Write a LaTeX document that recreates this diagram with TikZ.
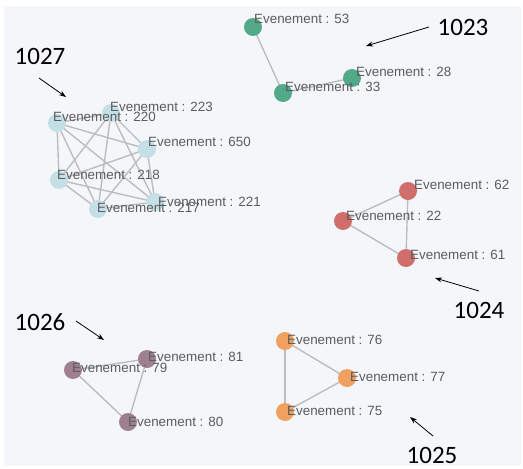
\documentclass[tikz,border=0pt]{standalone}
\usepackage{fontspec}
\setmainfont{Liberation Sans}
\newfontfamily\bigfont{Carlito}
\usetikzlibrary{arrows.meta}
\definecolor{panel}{HTML}{F4F6FA}
\definecolor{cgreen}{HTML}{52AA88}
\definecolor{cblue}{HTML}{C4E0E6}
\definecolor{cred}{HTML}{D06E6C}
\definecolor{corange}{HTML}{F0A061}
\definecolor{cpurple}{HTML}{9E8090}
\definecolor{labgray}{HTML}{5C5C5C}
\definecolor{edgegray}{HTML}{BDBDBD}
\tikzset{
  ev/.style={circle, minimum size=18pt, inner sep=0pt, draw=none},
  lab/.style={anchor=west, inner sep=0pt, text=labgray, font=\fontsize{13.4}{15}\selectfont},
  link/.style={draw=edgegray, line width=1.4pt},
  big/.style={inner sep=0pt, font=\bigfont\fontsize{25}{28}\selectfont, text=black},
  pointer/.style={draw=black, line width=0.8pt, -{Stealth[length=7pt,width=5pt]}}
}
\begin{document}
\begin{tikzpicture}[x=1pt,y=-1pt]
\useasboundingbox (0,0) rectangle (523,469);
\fill[white] (0,0) rectangle (523,469);
\fill[panel] (4,6) rectangle (521,466);

% ---- cluster 1027 ----
\coordinate (p220) at (57,123);
\coordinate (p223) at (111,113);
\coordinate (p650) at (147,149);
\coordinate (p218) at (59,180);
\coordinate (p217) at (98,209);
\coordinate (p221) at (155,202);
\foreach \a/\b in {220/223,220/650,220/218,220/217,220/221,223/650,223/218,223/217,223/221,650/218,650/217,650/221,218/217,218/221,217/221}
  \draw[link] (p\a) -- (p\b);
\foreach \n in {220,223,650,218,217,221}
  \node[ev, fill=cblue] (n\n) at (p\n) {};
\node[lab] (l220) at (53,117) {Evenement : 220};
\node[lab] (l223) at (110,107) {Evenement : 223};
\node[lab] (l650) at (148,142) {Evenement : 650};
\node[lab] (l218) at (57,175) {Evenement : 218};
\node[lab] (l221) at (158,202) {Evenement : 221};
\node[lab] (l217) at (97,208) {Evenement : 217};

% ---- cluster 1023 ----
\coordinate (p53) at (253,27);
\coordinate (p33) at (283,93);
\coordinate (p28) at (352,78);
\draw[link] (p53) -- (p33);
\draw[link] (p33) -- (p28);
\foreach \n in {53,33,28}
  \node[ev, fill=cgreen] (n\n) at (p\n) {};
\node[lab] (l53) at (254,19) {Evenement : 53};
\node[lab] (l33) at (285,87) {Evenement : 33};
\node[lab] (l28) at (356,72) {Evenement : 28};

% ---- cluster 1024 ----
\coordinate (p62) at (408,191);
\coordinate (p22) at (343,221);
\coordinate (p61) at (406,258);
\draw[link] (p62) -- (p22);
\draw[link] (p62) -- (p61);
\draw[link] (p22) -- (p61);
\foreach \n in {62,22,61}
  \node[ev, fill=cred] (n\n) at (p\n) {};
\node[lab] (l62) at (414,185) {Evenement : 62};
\node[lab] (l22) at (346,216) {Evenement : 22};
\node[lab] (l61) at (410,255) {Evenement : 61};

% ---- cluster 1026 ----
\coordinate (p79) at (73,370);
\coordinate (p81) at (147,359);
\coordinate (p80) at (128,422);
\draw[link] (p79) -- (p81);
\draw[link] (p81) -- (p80);
\draw[link] (p79) -- (p80);
\foreach \n in {79,81,80}
  \node[ev, fill=cpurple] (n\n) at (p\n) {};
\node[lab] (l81) at (148,357) {Evenement : 81};
\node[lab] (l79) at (72,368) {Evenement : 79};
\node[lab] (l80) at (128,422) {Evenement : 80};

% ---- cluster 1025 ----
\coordinate (p76) at (285,341);
\coordinate (p77) at (347,378);
\coordinate (p75) at (285,412);
\draw[link] (p76) -- (p77);
\draw[link] (p76) -- (p75);
\draw[link] (p77) -- (p75);
\foreach \n in {76,77,75}
  \node[ev, fill=corange] (n\n) at (p\n) {};
\node[lab] (l76) at (287,340) {Evenement : 76};
\node[lab] (l77) at (350,377) {Evenement : 77};
\node[lab] (l75) at (287,411) {Evenement : 75};

% ---- cluster labels and pointers ----
\node[big] (t1027) at (40,56) {1027};
\coordinate (a1027s) at (39,78);
\coordinate (a1027e) at (66,97);
\draw[pointer] (a1027s) -- (a1027e);

\node[big] (t1023) at (463,27) {1023};
\coordinate (a1023s) at (429,27);
\coordinate (a1023e) at (366,46);
\draw[pointer] (a1023s) -- (a1023e);

\node[big] (t1024) at (479,310) {1024};
\coordinate (a1024s) at (479,291);
\coordinate (a1024e) at (435,278);
\draw[pointer] (a1024s) -- (a1024e);

\node[big] (t1026) at (40,322) {1026};
\coordinate (a1026s) at (76,321);
\coordinate (a1026e) at (104,340);
\draw[pointer] (a1026s) -- (a1026e);

\node[big] (t1025) at (432,455) {1025};
\coordinate (a1025s) at (433,436);
\coordinate (a1025e) at (410,417);
\draw[pointer] (a1025s) -- (a1025e);
\end{tikzpicture}
\end{document}
